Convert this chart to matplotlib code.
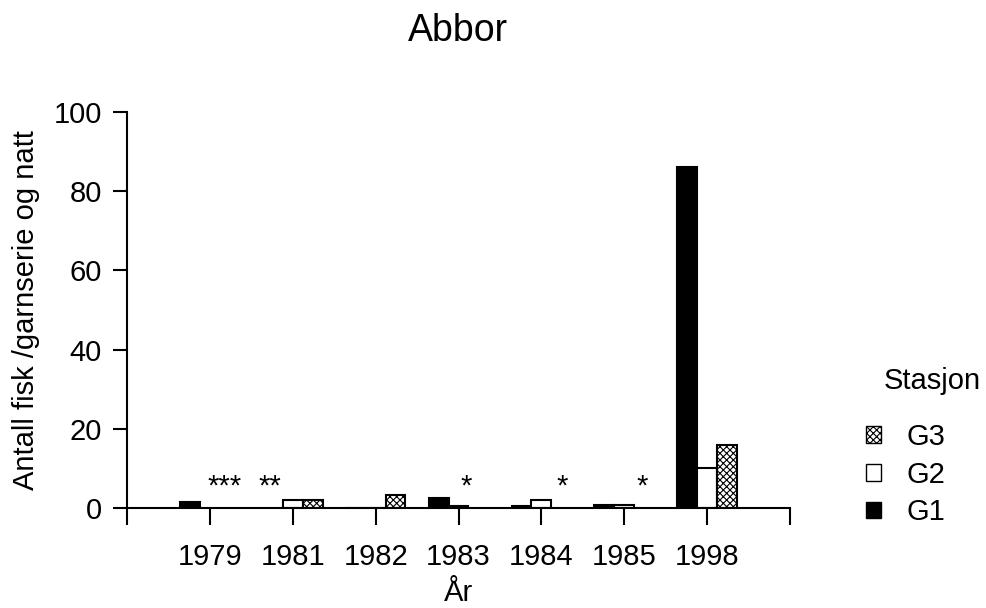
import numpy as np
import matplotlib
matplotlib.use("Agg")
import matplotlib.pyplot as plt
from matplotlib.patches import Patch

plt.rcParams['font.family'] = ['Liberation Sans', 'DejaVu Sans']
plt.rcParams['hatch.linewidth'] = 0.8

# ---- data ----
years = ['1979', '1981', '1982', '1983', '1984', '1985', '1998']
g1 = [1.4, np.nan, 0.0, 2.4, 0.6, 0.8, 86.0]
g2 = [np.nan, 2.0, 0.0, 0.6, 2.1, 0.8, 10.0]
g3 = [np.nan, 2.0, 3.3, np.nan, np.nan, np.nan, 16.0]
series_names = ['G1', 'G2', 'G3']
note_years = ['1979', '1981', '1983', '1984', '1985']
note_texts = ['***', '**', '*', '*', '*']
note_offsets = [0.18, -0.28, 0.09, 0.25, 0.22]

FS = 21
fig = plt.figure(figsize=(9.86, 6.08), dpi=100)
ax = fig.add_axes([127/986, 1-508/608, (790-127)/986, (508-112)/608])

x = np.arange(1, len(years) + 1)
w = 0.24
styles = [dict(facecolor='black', edgecolor='black', hatch=None),
          dict(facecolor='white', edgecolor='black', hatch=None),
          dict(facecolor='white', edgecolor='black', hatch='xxxxx')]
handles = []
for i, (vals, name, st) in enumerate(zip([g1, g2, g3], series_names, styles)):
    ax.bar(x + (i - 1) * w, vals, width=w, linewidth=1.5, **st, label=name)
    handles.append(Patch(linewidth=1.0, label=name, **st))

for yr, t, off in zip(note_years, note_texts, note_offsets):
    xi = years.index(yr) + 1
    ax.text(xi + off, 3.4, t, ha='center', va='baseline', fontsize=FS)

ax.set_xlim(0, len(years) + 1)
ax.set_ylim(0, 100)
ax.set_xticks(np.arange(0, len(years) + 2))
ax.set_xticklabels([''] + years + [''], fontsize=FS)
ax.set_yticks([0, 20, 40, 60, 80, 100])
ax.tick_params(axis='y', labelsize=FS, length=10, width=1.5, pad=8)
ax.tick_params(axis='x', labelsize=FS, length=12, width=1.5, pad=13)
for s in ['top', 'right']:
    ax.spines[s].set_visible(False)
for s in ['left', 'bottom']:
    ax.spines[s].set_linewidth(1.5)

ax.set_xlabel('År', fontsize=FS, labelpad=6)
ax.set_ylabel('Antall fisk /garnserie og natt', fontsize=FS, labelpad=10)
fig.text(458/986, 1-31/608, 'Abbor', ha='center', va='center', fontsize=27)

fig.text(932/986, 1-381/608, 'Stasjon', ha='center', va='center', fontsize=FS)
leg = fig.legend(handles=handles[::-1], loc='upper left',
                 bbox_to_anchor=(866/986, 1-423/608), frameon=False,
                 fontsize=FS, handlelength=0.5, handleheight=0.5,
                 handletextpad=0.9, labelspacing=0.33, borderpad=0, borderaxespad=0)

fig.savefig('out.png', dpi=100)
